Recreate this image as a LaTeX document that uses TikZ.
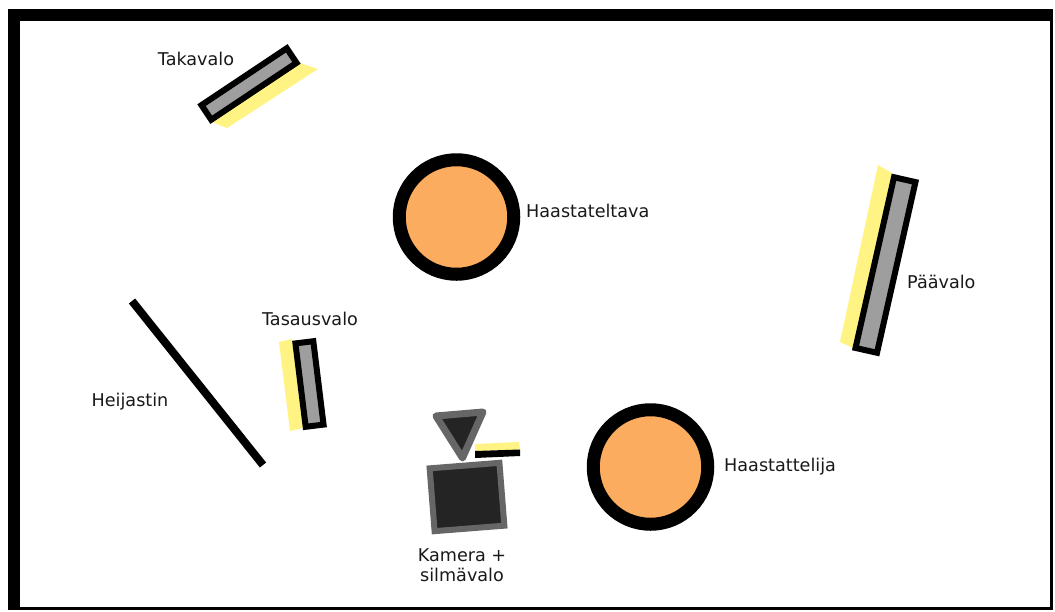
\documentclass[tikz,border=0pt]{standalone}
\usepackage{fontspec}
\setmainfont{DejaVu Sans}
\definecolor{valo}{HTML}{FFF383}
\definecolor{iho}{HTML}{FBAC5E}
\begin{document}
\begin{tikzpicture}[
    x=1pt, y=-1pt,
    lbl/.style={font=\fontsize{17.6}{20}\selectfont, align=center, inner sep=0pt, text=black!90},
    lamp/.style={draw=black, fill=black!38, line width=6pt, inner sep=0pt, outer sep=0pt},
    glow/.style={fill=valo},
    person/.style={draw=black, fill=iho, circle, line width=13pt, minimum size=114.5pt, inner sep=0pt},
    cam/.style={draw=black!60, fill=black!86, line width=6pt, inner sep=0pt}
]
\useasboundingbox (0,0) rectangle (1055,611);
\fill[black] (8,9) rectangle (1053,610);
\fill[white] (20,21) rectangle (1050,607);

% valot
\fill[glow] (300,63) -- (318,69) -- (227,128) -- (212,122) -- cycle;
\node[lamp, minimum width=102.5pt, minimum height=17.5pt, rotate=33.7] (takavalo) at (249,84) {};
\fill[glow] (878,165) -- (892,173) -- (853,348) -- (840,342) -- cycle;
\node[lamp, minimum width=175pt, minimum height=22pt, rotate=77.3] (paavalo) at (885.5,265) {};
\fill[glow] (279,342) -- (292,339) -- (303,428) -- (290,431) -- cycle;
\node[lamp, minimum width=84pt, minimum height=18pt, rotate=97] (tasausvalo) at (309.5,384) {};

% henkilot
\node[person] (haastateltava) at (456.5,217) {};
\node[person] (haastattelija) at (650.5,467) {};

% heijastin
\coordinate (h1) at (132,301);
\coordinate (h2) at (263,465);
\draw[line width=8pt] (h1) -- (h2);

% kamera
\node[cam, minimum width=70pt, minimum height=63pt, rotate=4.5] (kamera) at (467,497) {};
\draw[cam, line width=7pt, line join=round] (436,416) -- (483,412) -- (462.5,458) -- cycle;
\fill[valo] (475,444) -- (519,442) -- (520,449.5) -- (475,451) -- cycle;
\fill[black] (475,451) -- (520,449.5) -- (520,456) -- (475,458) -- cycle;

% tekstit
\node[lbl] (l1) at (196,59) {Takavalo};
\node[lbl, anchor=west] (l2) at (526,211) {Haastateltava};
\node[lbl, anchor=west] (l3) at (907,282) {Päävalo};
\node[lbl] (l4) at (310,319) {Tasausvalo};
\node[lbl] (l5) at (130,402) {Heijastin};
\node[lbl, anchor=west] (l6) at (724,467) {Haastattelija};
\node[lbl] (l7) at (462,565) {Kamera +\\silmävalo};
\end{tikzpicture}
\end{document}
